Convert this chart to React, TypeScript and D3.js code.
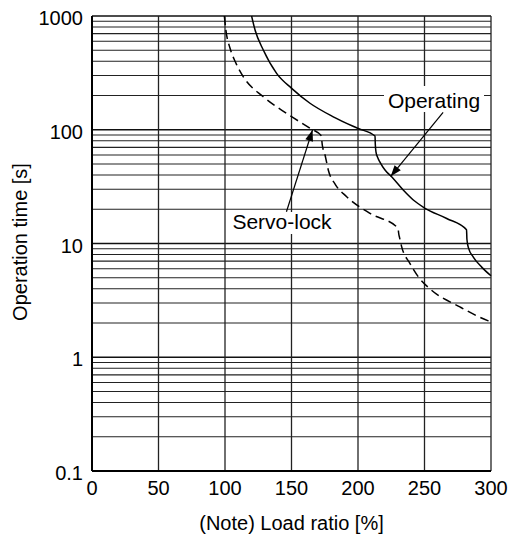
import React from "react";
import * as d3 from "d3";

const xTicks = [0, 50, 100, 150, 200, 250, 300];
const yTicks = [0.1, 1, 10, 100, 1000];
const yTickLabels = ["0.1", "1", "10", "100", "1000"];

const operatingLoad = [120, 122.6, 128.8, 138.8, 150.1, 163.9, 181.4, 199.7, 212.8, 213, 213.5, 214.8, 216.5, 220.3, 225.3, 234, 241.6, 250.4, 266.7, 281.6, 281.9, 283, 286.7, 293, 300];
const operatingTime = [1000, 753, 502, 313, 231, 171, 130, 103, 88, 75, 64, 57, 52, 44.3, 38.6, 29.5, 24.1, 20.4, 16.6, 13.2, 10.9, 9.2, 7.6, 6.2, 5.2];

const servoLoad = [99.5, 100.6, 103.8, 108, 113.8, 128.8, 146.3, 163.9, 172.6, 172.9, 173.6, 175.2, 177.7, 183, 191.5, 209, 230.2, 230.5, 231.3, 232.8, 239, 245.3, 254, 276.6, 298, 300];
const servoTime = [1000, 760, 520, 390, 292, 195, 139, 103, 88, 78, 69, 60, 44, 33, 25.8, 18.4, 13.6, 12.5, 11.2, 9.4, 6.7, 5.1, 4.0, 2.77, 2.09, 2.05];

const W = 511;
const H = 543;
const left = 92;
const right = 491;
const top = 16;
const bottom = 471;
const FONT = "'Liberation Sans', Arial, sans-serif";

function arrowHead(x1: number, y1: number, x2: number, y2: number, len = 11, half = 4) {
  const dx = x2 - x1;
  const dy = y2 - y1;
  const d = Math.hypot(dx, dy);
  const ux = dx / d;
  const uy = dy / d;
  const bx = x2 - ux * len;
  const by = y2 - uy * len;
  return `M${x2},${y2} L${bx - uy * half},${by + ux * half} L${bx + uy * half},${by - ux * half} Z`;
}

export default function App() {
  const x = d3.scaleLinear().domain([0, 300]).range([left, right]);
  const y = d3.scaleLog().domain([0.1, 1000]).range([bottom, top]);

  const minor: number[] = [];
  for (let dec = 0.1; dec < 1000; dec *= 10) {
    for (let k = 2; k <= 9; k++) minor.push(+(dec * k).toPrecision(3));
  }

  const line = d3
    .line<[number, number]>()
    .x((d) => x(d[0]))
    .y((d) => y(d[1]))
    .curve(d3.curveMonotoneX);

  const opPts = operatingLoad.map((v, i) => [v, operatingTime[i]] as [number, number]);
  const svPts = servoLoad.map((v, i) => [v, servoTime[i]] as [number, number]);

  const opTip: [number, number] = [x(224.6), y(39)];
  const opTail: [number, number] = [x(264), y(142)];
  const svTip: [number, number] = [x(165.8), y(99.5)];
  const svTail: [number, number] = [x(146.2), y(19)];

  return (
    <svg
      width={W}
      height={H}
      style={{ position: "absolute", left: 0, top: 0, background: "#fff" }}
      fontFamily={FONT}
    >
      <rect x={0} y={0} width={W} height={H} fill="#fff" />
      {minor.map((v) => (
        <line key={"m" + v} x1={left} x2={right} y1={y(v)} y2={y(v)} stroke="#222" strokeWidth={1.1} />
      ))}
      {yTicks.map((v) => (
        <line key={"M" + v} x1={left} x2={right} y1={y(v)} y2={y(v)} stroke="#111" strokeWidth={1.4} />
      ))}
      {xTicks.map((v) => (
        <line key={"v" + v} x1={x(v)} x2={x(v)} y1={top} y2={bottom} stroke="#222" strokeWidth={1.3} />
      ))}
      <line x1={left} x2={left} y1={top} y2={bottom} stroke="#000" strokeWidth={2} />
      <line x1={left} x2={right} y1={bottom} y2={bottom} stroke="#000" strokeWidth={2} />

      <path d={line(opPts) || ""} fill="none" stroke="#000" strokeWidth={1.5} />
      <path d={line(svPts) || ""} fill="none" stroke="#000" strokeWidth={1.5} strokeDasharray="9,5" />

      <rect x={384} y={86} width={100} height={26} fill="#fff" />
      <text x={434} y={108} fontSize={21} textAnchor="middle" fill="#000">Operating</text>
      <line x1={opTail[0]} y1={opTail[1]} x2={opTip[0]} y2={opTip[1]} stroke="#000" strokeWidth={1.2} />
      <path d={arrowHead(opTail[0], opTail[1], opTip[0], opTip[1])} fill="#000" />

      <rect x={230} y={212} width={104} height={22} fill="#fff" />
      <text x={282} y={229} fontSize={21} textAnchor="middle" fill="#000">Servo-lock</text>
      <line x1={svTail[0]} y1={svTail[1]} x2={svTip[0]} y2={svTip[1]} stroke="#000" strokeWidth={1.2} />
      <path d={arrowHead(svTail[0], svTail[1], svTip[0], svTip[1])} fill="#000" />

      {xTicks.map((v) => (
        <text key={"xt" + v} x={x(v)} y={495} fontSize={20} textAnchor="middle" fill="#000">
          {v}
        </text>
      ))}
      {yTicks.map((v, i) => (
        <text key={"yt" + v} x={83} y={y(v) + 9} fontSize={20} textAnchor="end" fill="#000">
          {yTickLabels[i]}
        </text>
      ))}

      <text x={(left + right) / 2} y={530} fontSize={20} textAnchor="middle" fill="#000">
        (Note) Load ratio [%]
      </text>
      <text transform={`translate(27, 242) rotate(-90)`} fontSize={20} textAnchor="middle" fill="#000">
        Operation time [s]
      </text>
    </svg>
  );
}
